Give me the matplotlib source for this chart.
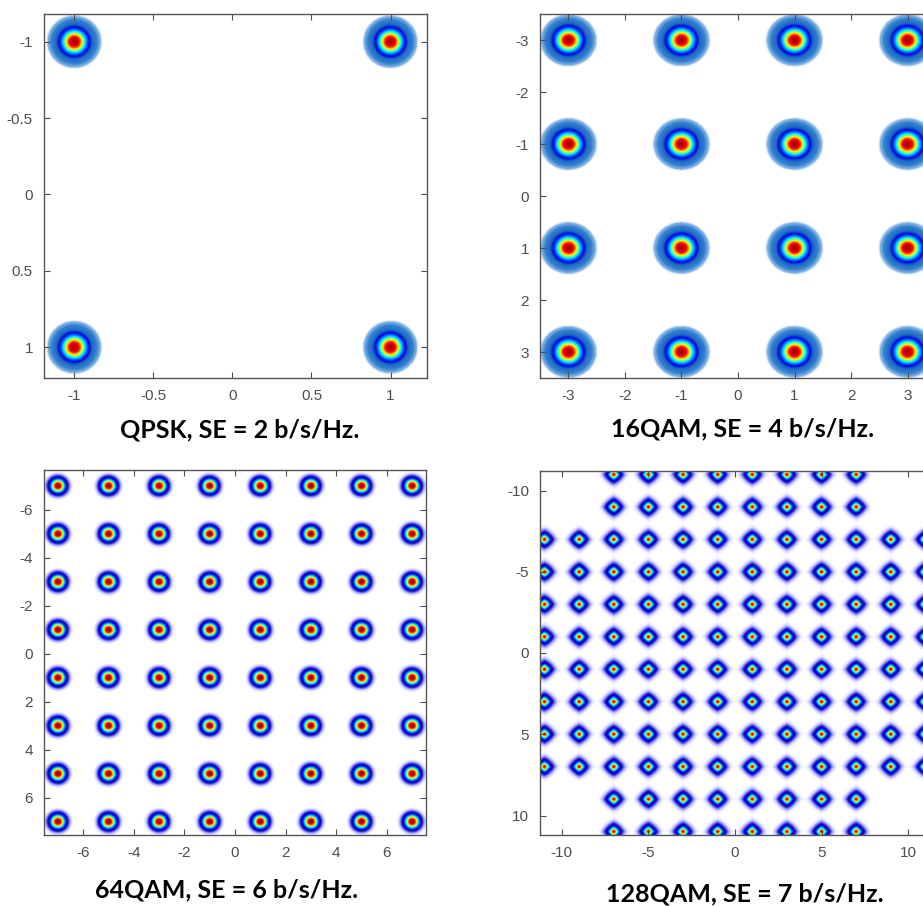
import numpy as np
import matplotlib
matplotlib.use("Agg")
import matplotlib.pyplot as plt
from matplotlib.colors import LinearSegmentedColormap

plt.rcParams['axes.unicode_minus'] = False
plt.rcParams['font.family'] = ['Liberation Sans', 'DejaVu Sans']

# constellation levels (in-phase / quadrature) for each format
qpsk_levels = [-1, 1]
qam16_levels = [-3, -1, 1, 3]
qam64_levels = [-7, -5, -3, -1, 1, 3, 5, 7]
qam128_levels = [-11, -9, -7, -5, -3, -1, 1, 3, 5, 7, 9, 11]
# 128QAM cross: outer rows (|y| >= 9) only hold the middle 8 columns
qam128_outer_rows = [-11, -9, 9, 11]
qam128_outer_cols = [-7, -5, -3, -1, 1, 3, 5, 7]

titles = ["QPSK, SE = 2 b/s/Hz.", "16QAM, SE = 4 b/s/Hz.",
          "64QAM, SE = 6 b/s/Hz.", "128QAM, SE = 7 b/s/Hz."]

qpsk_ticks = [-1, -0.5, 0, 0.5, 1]
qam16_ticks = [-3, -2, -1, 0, 1, 2, 3]
qam64_ticks = [-6, -4, -2, 0, 2, 4, 6]
qam128_ticks = [-10, -5, 0, 5, 10]


def make_cmap(halo):
    if halo == "speckle":
        stops = [(0.0, (1, 1, 1)), (0.006, (1, 1, 1)), (0.012, (0.5, 0.7, 0.9)),
                 (0.04, (0.2, 0.5, 0.8)), (0.14, (0.1, 0.4, 0.78)),
                 (0.24, (0, 0, 0.85)), (0.33, (0, 0.3, 1)), (0.5, (0, 1, 1)),
                 (0.68, (1, 1, 0)), (0.86, (1, 0, 0)), (1.0, (0.65, 0, 0))]
    else:
        stops = [(0.0, (1, 1, 1)), (0.015, (1, 1, 1)), (0.04, (0.88, 0.88, 1)),
                 (0.09, (0.55, 0.55, 1)), (0.16, (0.1, 0.1, 0.85)),
                 (0.24, (0, 0, 0.6)), (0.34, (0, 0.1, 1)),
                 (0.52, (0, 1, 1)), (0.7, (1, 1, 0)), (0.87, (1, 0, 0)),
                 (1.0, (0.65, 0, 0))]
    return LinearSegmentedColormap.from_list("dens", stops)


def density(levels, mask, lim, spread, power, n=800):
    g = np.linspace(-lim, lim, n)
    lv = np.asarray(levels, float)[:, None]
    k = np.exp(-(np.abs(g[None, :] - lv) / spread) ** power / 2.0)
    d = k.T @ mask @ k
    return d / d.max()


def panel(rect, levels, mask, xlim, ylim, ticks, spread, power, halo, title, tx, ty):
    ax = fig.add_axes(rect)
    lim = max(abs(xlim[0]), abs(xlim[1]), abs(ylim[0]), abs(ylim[1])) + 0.3
    d = density(levels, mask, lim, spread, power)
    ax.imshow(d, extent=[-lim, lim, -lim, lim], origin='lower', cmap=make_cmap(halo),
              vmin=0, vmax=1, aspect='auto', interpolation='bilinear')
    ax.set_xlim(xlim)
    ax.set_ylim(ylim)
    ax.set_xticks(ticks)
    ax.set_yticks(ticks)
    ax.set_xticklabels([f"{t:g}" for t in ticks])
    ax.set_yticklabels([f"{t:g}" for t in ticks])
    ax.tick_params(direction='in', length=4, width=0.8, top=True, right=True,
                   colors='#4d4d4d', labelsize=11, pad=8)
    for s in ax.spines.values():
        s.set_color('#555555')
        s.set_linewidth(1.0)
    fig.text(tx / 923, 1 - ty / 906, title, ha='center', va='center',
             fontsize=18, fontweight='bold', family=['Lato', 'DejaVu Sans'])
    return ax


fig = plt.figure(figsize=(9.23, 9.06), dpi=100)


def rect(x0, y0, x1, y1):
    return [x0 / 923, 1 - y1 / 906, (x1 - x0) / 923, (y1 - y0) / 906]


m4 = np.ones((2, 2))
panel(rect(44, 14, 427, 378), qpsk_levels, m4, (-1.19, 1.23), (1.2, -1.18),
      qpsk_ticks, 0.057, 2, "speckle", titles[0], 240, 430)

m16 = np.ones((4, 4))
panel(rect(540, 14, 936, 378), qam16_levels, m16, (-3.5, 3.5), (3.5, -3.5),
      qam16_ticks, 0.165, 2, "speckle", titles[1], 743, 429)

m64 = np.ones((8, 8))
panel(rect(44, 470, 426, 835), qam64_levels, m64, (-7.54, 7.54), (7.55, -7.65),
      qam64_ticks, 0.215, 2, "glow", titles[2], 227, 890)

m128 = np.ones((12, 12))
for i, r in enumerate(qam128_levels):
    for j, c in enumerate(qam128_levels):
        if r in qam128_outer_rows and c not in qam128_outer_cols:
            m128[i, j] = 0
panel(rect(540, 471, 930, 835), qam128_levels, m128, (-11.25, 11.25), (11.2, -11.2),
      qam128_ticks, 0.195, 1.35, "glow", titles[3], 745, 894)

fig.savefig("out.png", dpi=100)
